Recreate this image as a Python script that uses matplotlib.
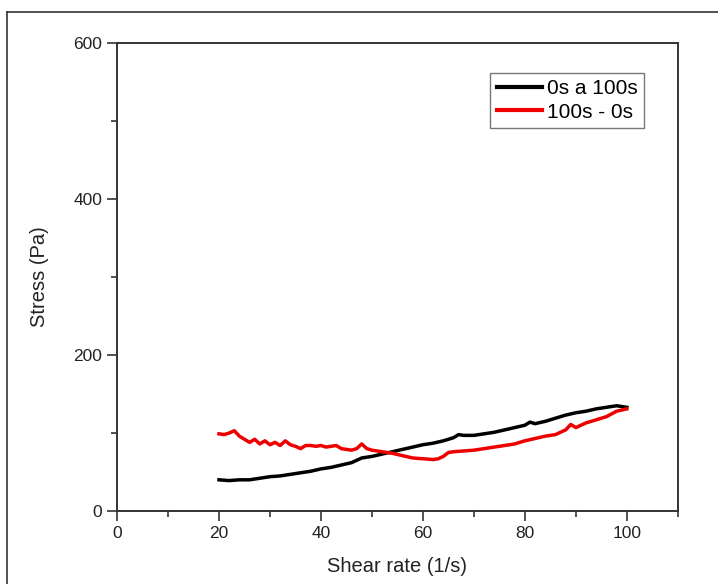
import matplotlib
matplotlib.use("Agg")
import matplotlib.pyplot as plt
from matplotlib.ticker import MultipleLocator
from matplotlib.lines import Line2D

plt.rcParams['font.family'] = ['Liberation Sans', 'DejaVu Sans']

# 0s a 100s (ida)
up_x = [20, 22, 24, 26, 28, 30, 32, 34, 36, 38, 40, 42, 44, 46, 47, 48, 50,
        52, 54, 56, 58, 60, 62, 64, 66, 67, 68, 70, 72, 74, 76, 78, 80, 81,
        82, 84, 86, 88, 90, 92, 94, 96, 98, 100]
up_y = [40, 39, 40, 40, 42, 44, 45, 47, 49, 51, 54, 56, 59, 62, 65, 68, 70,
        73, 76, 79, 82, 85, 87, 90, 94, 98, 97, 97, 99, 101, 104, 107, 110, 114,
        112, 115, 119, 123, 126, 128, 131, 133, 135, 133]

# 100s - 0s (vuelta)
down_x = [20, 21, 22, 23, 24, 25, 26, 27, 28, 29, 30, 31, 32, 33, 34, 35, 36,
          37, 38, 39, 40, 41, 42, 43, 44, 45, 46, 47, 48, 49, 50, 52, 54, 56,
          58, 60, 62, 63, 64, 65, 66, 68, 70, 72, 74, 76, 78, 80, 82, 84, 86,
          88, 89, 90, 91, 92, 94, 96, 98, 100]
down_y = [99, 98, 100, 103, 96, 92, 88, 92, 86, 90, 85, 88, 84, 90, 85, 83, 80,
          84, 84, 83, 84, 82, 83, 84, 80, 79, 78, 80, 86, 80, 78, 76, 74, 71,
          68, 67, 66, 67, 70, 75, 76, 77, 78, 80, 82, 84, 86, 90, 93, 96, 98,
          104, 111, 107, 110, 113, 117, 121, 128, 131]

labels = ["0s a 100s", "100s - 0s"]

fig = plt.figure(figsize=(7.18, 5.84), dpi=100)
ax = fig.add_axes([0.163, 0.125, 0.781, 0.801])

ax.plot(up_x, up_y, color="black", lw=2.5, label=labels[0])
ax.plot(down_x, down_y, color="#ee0000", lw=2.5, label=labels[1])

ax.set_xlim(0, 110)
ax.set_ylim(0, 600)
ax.xaxis.set_major_locator(MultipleLocator(20))
ax.xaxis.set_minor_locator(MultipleLocator(10))
ax.yaxis.set_major_locator(MultipleLocator(200))
ax.yaxis.set_minor_locator(MultipleLocator(100))

for s in ax.spines.values():
    s.set_color("#333333")
    s.set_linewidth(1.4)
ax.tick_params(which="both", direction="out", top=False, right=False,
               colors="#333333", labelcolor="#222222", labelsize=12.5)
ax.tick_params(which="major", length=7, width=1.2)
ax.tick_params(which="minor", length=4, width=1.2)

ax.set_xlabel("Shear rate (1/s)", fontsize=14.5, color="#222222", labelpad=12)
ax.set_ylabel("Stress (Pa)", fontsize=14.5, color="#222222", labelpad=18)

leg = ax.legend(loc="upper right", bbox_to_anchor=(0.939, 0.936), fontsize=15,
                fancybox=False, framealpha=1, edgecolor="#777777",
                handlelength=2.2, handletextpad=0.2, borderpad=0.3,
                labelspacing=0.2, borderaxespad=0)
leg.get_frame().set_linewidth(1.0)
for h in leg.get_lines():
    h.set_linewidth(3)

# outer frame (left and top edges)
fig.add_artist(Line2D([0.0098, 0.0098], [0.0, 0.979], color="#333333", lw=1.2))
fig.add_artist(Line2D([0.0098, 1.0], [0.979, 0.979], color="#333333", lw=1.2))

fig.savefig("out.png", dpi=100)
